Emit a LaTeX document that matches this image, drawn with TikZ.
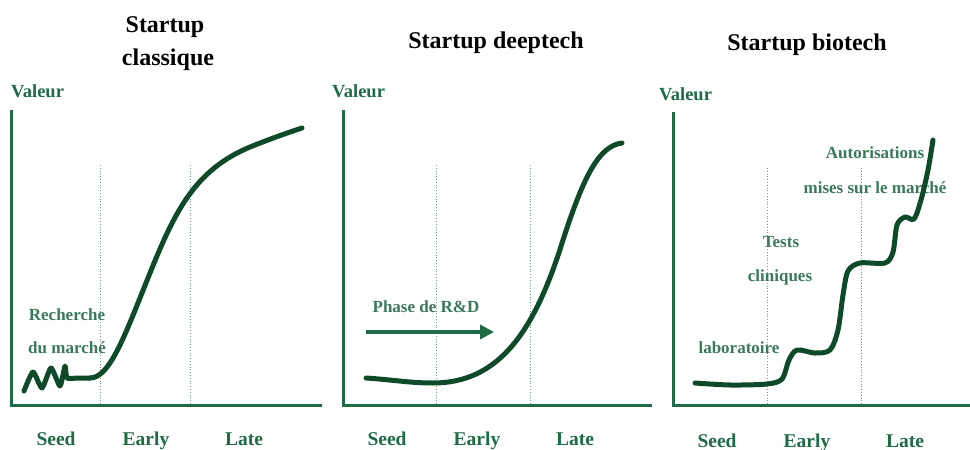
\documentclass[tikz,border=0pt]{standalone}
\usepackage{fontspec}
\setmainfont{Liberation Serif}
\usetikzlibrary{arrows.meta}
\definecolor{axisgreen}{HTML}{1E6B45}
\definecolor{curvegreen}{HTML}{0E4A2A}
\definecolor{notegreen}{HTML}{3A7A58}
\definecolor{dotgray}{HTML}{7A9A88}
\tikzset{
  axis/.style={draw=axisgreen, line width=3pt},
  curve/.style={draw=curvegreen, line width=5pt, line cap=round, line join=round},
  phase/.style={draw=dotgray, line width=0.8pt, dotted},
  ttl/.style={anchor=base, inner sep=0pt, font=\bfseries\fontsize{24}{26}\selectfont, text=black},
  val/.style={anchor=base west, inner sep=0pt, font=\bfseries\fontsize{18.5}{20}\selectfont, text=axisgreen},
  stage/.style={anchor=base, inner sep=0pt, font=\bfseries\fontsize{19.5}{21}\selectfont, text=axisgreen},
  note/.style={anchor=base, inner sep=0pt, font=\bfseries\fontsize{17}{19}\selectfont, text=notegreen},
}
\begin{document}
\begin{tikzpicture}[x=1pt,y=-1pt]
\useasboundingbox (0,0) rectangle (970,450);
% ---------- Panel 1 ----------
\node[ttl] (t1a) at (165,32) {Startup};
\node[ttl] (t1b) at (168,65) {classique};
\node[val] (v1) at (11,97) {Valeur};
\draw[phase] (100,165) -- (100,405);
\draw[phase] (190,165) -- (190,405);
\draw[axis] (11,110) -- (11,405) -- (322,405);
\node[stage] (s1) at (56,445) {Seed};
\node[stage] (e1) at (146,445) {Early};
\node[stage] (l1) at (244,445) {Late};
\node[note] (n1a) at (67,320) {Recherche};
\node[note] (n1b) at (67,353) {du marché};
\draw[curve] plot[smooth, tension=0.35] coordinates {(24,391) (33,372) (42,388) (51,368) (60,386) (65,366) (67,378) (78,378) (90,378)};
\draw[curve] (90,378) .. controls (110,378) and (125,335) .. (150,273)
  .. controls (175,211) and (195,170) .. (250,147)
  .. controls (275,137) and (290,132) .. (302,128);
% ---------- Panel 2 ----------
\node[ttl] (t2) at (496,48) {Startup deeptech};
\node[val] (v2) at (332,97) {Valeur};
\draw[phase] (436,165) -- (436,405);
\draw[phase] (530,165) -- (530,405);
\draw[axis] (343,110) -- (343,405) -- (652,405);
\node[stage] (s2) at (387,445) {Seed};
\node[stage] (e2) at (477,445) {Early};
\node[stage] (l2) at (575,445) {Late};
\node[note] (n2) at (426,312) {Phase de R\&D};
\coordinate (ra) at (366,332);
\coordinate (rb) at (494,332);
\draw[draw=axisgreen, line width=4pt, -{Triangle[length=14pt,width=14pt]}] (ra) -- (rb);
\draw[curve] (366,378) .. controls (395,380) and (410,383) .. (433,383)
  .. controls (500,383) and (535,330) .. (563,240)
  .. controls (585,172) and (600,146) .. (622,143);
% ---------- Panel 3 ----------
\node[ttl] (t3) at (807,50) {Startup biotech};
\node[val] (v3) at (659,100) {Valeur};
\draw[phase] (767,168) -- (767,405);
\draw[phase] (861,168) -- (861,405);
\draw[axis] (673,112) -- (673,405) -- (970,405);
\node[stage] (s3) at (717,447) {Seed};
\node[stage] (e3) at (807,447) {Early};
\node[stage] (l3) at (905,447) {Late};
\node[note] (n3a) at (875,158) {Autorisations};
\node[note] (n3b) at (875,193) {mises sur le marché};
\node[note] (n3c) at (781,247) {Tests};
\node[note] (n3d) at (780,281) {cliniques};
\node[note] (n3e) at (739,353) {laboratoire};
\draw[curve] plot[smooth, tension=0.5] coordinates {(695,383) (730,385) (767,384) (782,379) (789,360) (797,350) (815,353) (830,350) (838,330) (843,295) (848,271) (860,263) (885,263) (893,252) (897,225) (905,217) (914,219) (921,200) (928,170) (933,140)};
\end{tikzpicture}
\end{document}
